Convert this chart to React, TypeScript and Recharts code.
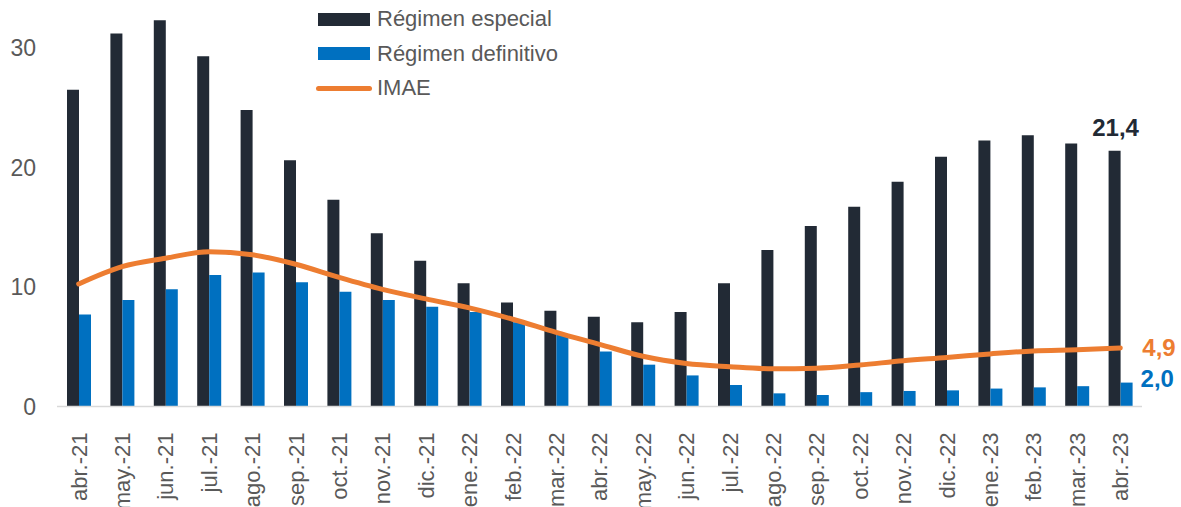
import { ComposedChart, Bar, Line, XAxis, YAxis, Legend, LabelList } from 'recharts';

const months = [
  'abr.-21', 'may.-21', 'jun.-21', 'jul.-21', 'ago.-21', 'sep.-21', 'oct.-21', 'nov.-21', 'dic.-21',
  'ene.-22', 'feb.-22', 'mar.-22', 'abr.-22', 'may.-22', 'jun.-22', 'jul.-22', 'ago.-22', 'sep.-22',
  'oct.-22', 'nov.-22', 'dic.-22', 'ene.-23', 'feb.-23', 'mar.-23', 'abr.-23',
];
const especial = [
  26.5, 31.2, 32.3, 29.3, 24.8, 20.6, 17.3, 14.5, 12.2, 10.3, 8.7, 8.0, 7.5, 7.05, 7.9, 10.3, 13.1,
  15.1, 16.7, 18.8, 20.9, 22.25, 22.7, 22.0, 21.4,
];
const definitivo = [
  7.7, 8.9, 9.8, 11.0, 11.2, 10.4, 9.6, 8.9, 8.35, 7.9, 7.05, 6.0, 4.6, 3.5, 2.6, 1.8, 1.1, 0.96,
  1.2, 1.3, 1.35, 1.5, 1.6, 1.7, 2.0,
];
const imae = [
  10.25, 11.7, 12.4, 12.95, 12.7, 11.9, 10.8, 9.8, 9.0, 8.25, 7.3, 6.2, 5.2, 4.2, 3.6, 3.33, 3.15,
  3.2, 3.47, 3.83, 4.1, 4.4, 4.65, 4.75, 4.9,
];
const yTicks = [0, 10, 20, 30];

const DARK = '#222A35';
const BLUE = '#0070C0';
const ORANGE = '#ED7D31';
const GRAY = '#595959';
const FONT = 'Arial, "Liberation Sans", sans-serif';

const data = months.map((m, i) => ({
  month: m,
  especial: especial[i],
  definitivo: definitivo[i],
  imae: imae[i],
}));
const last = months.length - 1;

const MonthTick = ({ x, y, payload }: any) => (
  <g transform={`translate(${x},${y})`}>
    <text
      transform="rotate(-90)"
      x={-18}
      dy="0.36em"
      textAnchor="end"
      fill={GRAY}
      fontSize={22}
      fontFamily={FONT}
    >
      {payload.value}
    </text>
  </g>
);

// only the last point gets a value label, placed relative to the mark
const LastLabel = (color: string, dx: number, dy: number, anchor: string) => (props: any) => {
  const { x, y, width, index, value } = props;
  if (index !== last) return null;
  const px = width !== undefined ? x + width / 2 : x;
  return (
    <text
      x={px + dx}
      y={y + dy}
      fill={color}
      fontSize={24}
      fontWeight="bold"
      fontFamily={FONT}
      textAnchor={anchor}
    >
      {value.toFixed(1).replace('.', ',')}
    </text>
  );
};

const legendItems = [
  { label: 'Régimen especial', color: DARK, kind: 'rect' },
  { label: 'Régimen definitivo', color: BLUE, kind: 'rect' },
  { label: 'IMAE', color: ORANGE, kind: 'line' },
];

const ChartLegend = () => (
  <div style={{ fontFamily: FONT, fontSize: 22, color: GRAY }}>
    {legendItems.map((it) => (
      <div key={it.label} style={{ display: 'flex', alignItems: 'center', height: 34.5 }}>
        {it.kind === 'rect' ? (
          <div style={{ width: 52, height: 13, background: it.color, marginRight: 7 }} />
        ) : (
          <div style={{ width: 56, height: 5, borderRadius: 3, background: it.color, marginRight: 5, marginLeft: -2 }} />
        )}
        <span>{it.label}</span>
      </div>
    ))}
  </div>
);

export default function App() {
  return (
    <div style={{ position: 'absolute', left: 0, top: 0, background: '#fff' }}>
      <ComposedChart
        width={1181}
        height={507}
        data={data}
        margin={{ top: 12, right: 39, bottom: 0, left: 0 }}
        barGap={0}
        barSize={12}
      >
        <XAxis
          dataKey="month"
          interval={0}
          height={100.5}
          tickLine={false}
          axisLine={{ stroke: '#D9D9D9', strokeWidth: 1.5 }}
          tick={<MonthTick />}
        />
        <YAxis
          domain={[0, 33]}
          ticks={yTicks}
          width={57}
          axisLine={false}
          tickLine={false}
          tickSize={0}
          tickMargin={21}
          tick={{ fill: GRAY, fontSize: 23, fontFamily: FONT }}
        />
        <Legend
          layout="vertical"
          align="center"
          verticalAlign="middle"
          content={<ChartLegend />}
          wrapperStyle={{ position: 'absolute', left: 318, top: 2, width: 320 }}
        />
        <Bar dataKey="especial" fill={DARK} isAnimationActive={false}>
          <LabelList dataKey="especial" content={LastLabel(DARK, 1, -15, 'middle')} />
        </Bar>
        <Bar dataKey="definitivo" fill={BLUE} isAnimationActive={false}>
          <LabelList dataKey="definitivo" content={LastLabel(BLUE, 14, 4, 'start')} />
        </Bar>
        <Line
          dataKey="imae"
          type="monotone"
          stroke={ORANGE}
          strokeWidth={5}
          strokeLinecap="round"
          dot={false}
          isAnimationActive={false}
        >
          <LabelList dataKey="imae" content={LastLabel(ORANGE, 22, 8, 'start')} />
        </Line>
      </ComposedChart>
    </div>
  );
}
